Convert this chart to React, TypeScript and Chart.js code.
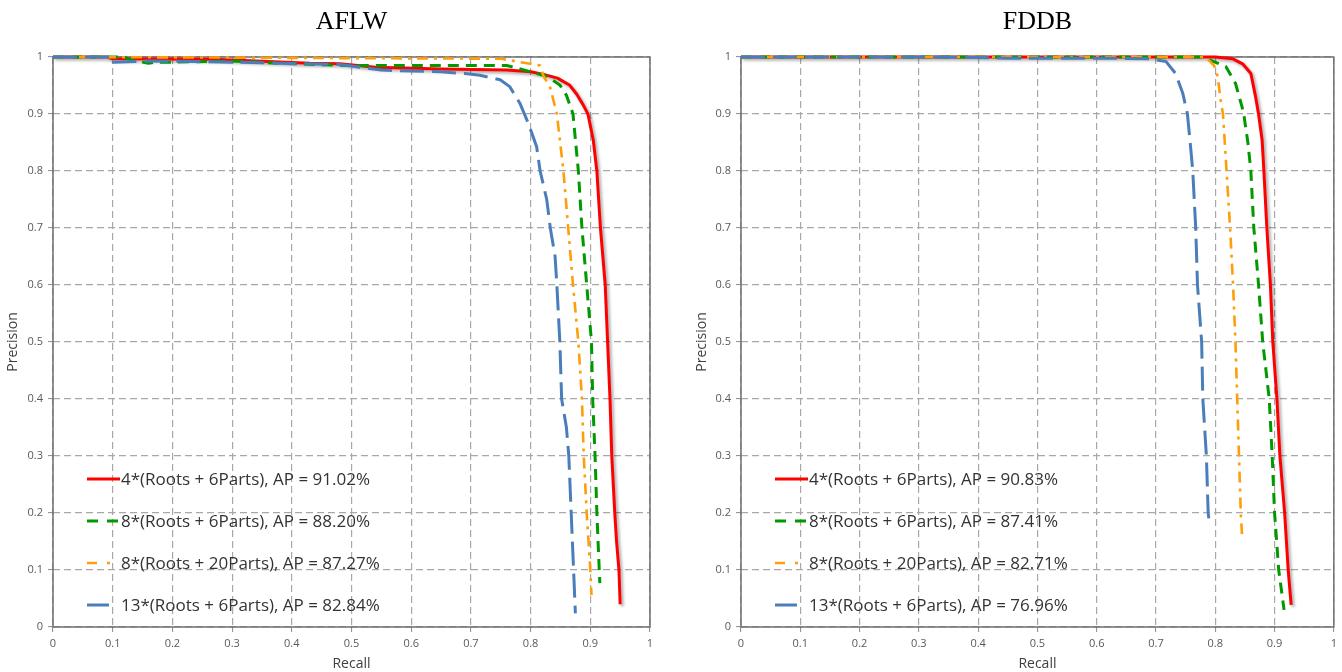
import React, { useEffect, useRef } from "react";
import { Chart, registerables } from "chart.js";

Chart.register(...registerables);

// ---- series labels and average precision ----
const seriesNames = [
  "4*(Roots + 6Parts)",
  "8*(Roots + 6Parts)",
  "8*(Roots + 20Parts)",
  "13*(Roots + 6Parts)",
];
const aflwAP = [91.02, 88.2, 87.27, 82.84];
const fddbAP = [90.83, 87.41, 82.71, 76.96];

// ---- AFLW precision / recall curves ----
const aflwRecall4x6 = [0, 0.09, 0.1, 0.27, 0.34, 0.43, 0.48, 0.54, 0.65, 0.76, 0.8, 0.82, 0.845, 0.865, 0.877, 0.888, 0.896, 0.905, 0.911, 0.917, 0.925, 0.929, 0.933, 0.936, 0.941, 0.944, 0.948, 0.95];
const aflwPrecision4x6 = [1, 1, 0.997, 0.996, 0.993, 0.989, 0.988, 0.982, 0.979, 0.977, 0.974, 0.97, 0.963, 0.951, 0.935, 0.916, 0.9, 0.854, 0.8, 0.7, 0.6, 0.5, 0.4, 0.3, 0.2, 0.15, 0.1, 0.04];

const aflwRecall8x6 = [0, 0.12, 0.13, 0.16, 0.17, 0.2, 0.3, 0.38, 0.49, 0.6, 0.76, 0.79, 0.827, 0.849, 0.86, 0.871, 0.88, 0.886, 0.894, 0.902, 0.904, 0.908, 0.911, 0.915, 0.916];
const aflwPrecision8x6 = [1, 1, 0.995, 0.989, 0.991, 0.991, 0.993, 0.989, 0.985, 0.985, 0.985, 0.977, 0.966, 0.951, 0.933, 0.9, 0.8, 0.7, 0.6, 0.5, 0.4, 0.3, 0.2, 0.1, 0.077];

const aflwRecall8x20 = [0, 0.3, 0.5, 0.75, 0.794, 0.816, 0.821, 0.833, 0.838, 0.844, 0.855, 0.863, 0.871, 0.88, 0.886, 0.889, 0.894, 0.9, 0.902];
const aflwPrecision8x20 = [1, 0.999, 0.998, 0.997, 0.989, 0.985, 0.968, 0.946, 0.925, 0.9, 0.8, 0.7, 0.6, 0.5, 0.4, 0.3, 0.2, 0.1, 0.056];

const aflwRecall13x6 = [0, 0.1, 0.101, 0.16, 0.24, 0.35, 0.42, 0.48, 0.55, 0.65, 0.69, 0.715, 0.749, 0.765, 0.782, 0.796, 0.81, 0.816, 0.827, 0.833, 0.841, 0.844, 0.849, 0.852, 0.86, 0.864, 0.868, 0.872, 0.875];
const aflwPrecision13x6 = [1, 1, 0.991, 0.993, 0.992, 0.99, 0.988, 0.987, 0.977, 0.974, 0.971, 0.968, 0.96, 0.948, 0.919, 0.884, 0.843, 0.8, 0.75, 0.7, 0.65, 0.6, 0.5, 0.4, 0.35, 0.3, 0.2, 0.1, 0.024];

// ---- FDDB precision / recall curves ----
const fddbRecall4x6 = [0, 0.8, 0.829, 0.846, 0.86, 0.868, 0.873, 0.879, 0.882, 0.887, 0.893, 0.897, 0.904, 0.909, 0.917, 0.923, 0.928];
const fddbPrecision4x6 = [1, 1, 0.997, 0.988, 0.971, 0.93, 0.9, 0.854, 0.8, 0.7, 0.6, 0.5, 0.4, 0.3, 0.2, 0.1, 0.039];

const fddbRecall8x6 = [0, 0.775, 0.79, 0.818, 0.834, 0.845, 0.848, 0.855, 0.86, 0.865, 0.873, 0.88, 0.891, 0.896, 0.9, 0.907, 0.916];
const fddbPrecision8x6 = [1, 1, 0.995, 0.983, 0.954, 0.913, 0.9, 0.85, 0.8, 0.7, 0.6, 0.5, 0.4, 0.3, 0.2, 0.1, 0.03];

const fddbRecall8x20 = [0, 0.784, 0.798, 0.804, 0.809, 0.813, 0.819, 0.825, 0.83, 0.834, 0.837, 0.84, 0.843, 0.845];
const fddbPrecision8x20 = [1, 1, 0.985, 0.966, 0.925, 0.9, 0.8, 0.7, 0.6, 0.5, 0.4, 0.3, 0.2, 0.163];

const fddbRecall13x6 = [0, 0.35, 0.45, 0.6, 0.69, 0.717, 0.733, 0.745, 0.753, 0.759, 0.762, 0.767, 0.77, 0.777, 0.779, 0.785, 0.788, 0.79];
const fddbPrecision13x6 = [1, 1, 0.998, 0.998, 0.997, 0.992, 0.971, 0.937, 0.9, 0.835, 0.8, 0.7, 0.6, 0.5, 0.4, 0.3, 0.2, 0.183];

// ---- line styles, one per series ----
const seriesStyles = [
  { color: "#ff0000", width: 3, dash: [] as number[], legendDash: [] as number[], legendLen: 33, shadow: true },
  { color: "#009a00", width: 3, dash: [11, 7], legendDash: [11, 9], legendLen: 33, shadow: false },
  { color: "#ff9e0b", width: 2.6, dash: [11, 6, 3, 6], legendDash: [10, 10, 3, 20], legendLen: 33, shadow: false },
  { color: "#4a7ebb", width: 3, dash: [24, 8], legendDash: [], legendLen: 22, shadow: false },
];

const TICK_FONT = { family: "'Open Sans', sans-serif", size: 11 };
const GRID_COLOR = "#a8a8a8";
const FRAME_COLOR = "#6f6f6f";

// 0 -> "0", 0.1 -> "0.1", 1 -> "1"
const formatTick = (v: number | string) => String(Number(Number(v).toFixed(1)));

type PanelProps = {
  title: string;
  recalls: number[][];
  precisions: number[][];
  ap: number[];
  padLeft: number;
  yWidth: number;
  padRight: number;
};

function pairs(xs: number[], ys: number[]) {
  return xs.map((x, i) => ({ x, y: ys[i] }));
}

function PRPanel({ title, recalls, precisions, ap, padLeft, yWidth, padRight }: PanelProps) {
  const ref = useRef<HTMLCanvasElement | null>(null);

  useEffect(() => {
    if (!ref.current) return;

    const datasets = recalls.map((r, i) => ({
      label: seriesNames[i],
      data: pairs(r, precisions[i]),
      borderColor: seriesStyles[i].color,
      backgroundColor: seriesStyles[i].color,
      borderWidth: seriesStyles[i].width,
      borderDash: seriesStyles[i].dash,
      borderCapStyle: "butt" as const,
      borderJoinStyle: "round" as const,
      pointRadius: 0,
      tension: 0,
      fill: false,
      clip: false as const,
      // red drawn underneath, blue on top
      order: 4 - i,
    }));

    const panelPlugin = {
      id: "prPanel",
      beforeDatasetsDraw(chart: any) {
        const { ctx, chartArea } = chart;
        ctx.save();
        ctx.strokeStyle = FRAME_COLOR;
        ctx.lineWidth = 1.5;
        ctx.strokeRect(chartArea.left, chartArea.top, chartArea.right - chartArea.left, chartArea.bottom - chartArea.top);
        ctx.restore();
      },
      beforeDatasetDraw(chart: any, args: any) {
        const ctx = chart.ctx;
        ctx.save();
        if (seriesStyles[args.index].shadow) {
          ctx.shadowColor = "rgba(0,0,0,0.35)";
          ctx.shadowBlur = 3;
          ctx.shadowOffsetX = 2;
          ctx.shadowOffsetY = 2;
        }
      },
      afterDatasetDraw(chart: any) {
        chart.ctx.restore();
      },
      afterDraw(chart: any) {
        const { ctx, chartArea } = chart;
        ctx.save();
        // panel title
        ctx.fillStyle = "#000";
        ctx.font = "26px 'Liberation Serif', 'Times New Roman', serif";
        ctx.textAlign = "center";
        ctx.textBaseline = "middle";
        ctx.fillText(title, (chartArea.left + chartArea.right) / 2, 22);

        // legend inside the plot, bottom-left
        ctx.textAlign = "left";
        ctx.font = "17px 'Open Sans', sans-serif";
        seriesNames.forEach((name, i) => {
          const st = seriesStyles[i];
          const y = chartArea.bottom - 148 + i * 42;
          const x0 = chartArea.left + 34;
          ctx.save();
          ctx.strokeStyle = st.color;
          ctx.lineWidth = st.width;
          ctx.lineCap = "butt";
          ctx.setLineDash(st.legendDash);
          ctx.beginPath();
          ctx.moveTo(x0, y);
          ctx.lineTo(x0 + st.legendLen, y);
          ctx.stroke();
          ctx.restore();
          ctx.fillStyle = "#333333";
          ctx.fillText(`${name}, AP = ${ap[i].toFixed(2)}%`, chartArea.left + 68, y + 1);
        });
        ctx.restore();
      },
    };

    const chart = new Chart(ref.current, {
      type: "line",
      data: { datasets },
      plugins: [panelPlugin],
      options: {
        animation: false,
        responsive: false,
        devicePixelRatio: 1,
        layout: { padding: { top: 57, left: padLeft, right: padRight, bottom: 0 } },
        plugins: {
          legend: { display: false },
          title: { display: false },
          tooltip: { enabled: false },
        },
        scales: {
          x: {
            type: "linear",
            min: 0,
            max: 1,
            ticks: { stepSize: 0.1, font: TICK_FONT, color: "#595959", padding: 5, maxRotation: 0, callback: formatTick },
            grid: { color: GRID_COLOR, lineWidth: 1.2, tickLength: 5, tickColor: "#8a8a8a", tickWidth: 1, tickBorderDash: [] },
            border: { display: false, dash: [7, 4] },
            title: {
              display: true,
              text: "Recall",
              color: "#404040",
              font: { family: "'Open Sans', sans-serif", size: 14 },
              padding: { top: 0, bottom: 0 },
            },
            afterFit(scale: any) {
              scale.height = 45;
            },
          },
          y: {
            type: "linear",
            min: 0,
            max: 1,
            ticks: { stepSize: 0.1, font: TICK_FONT, color: "#595959", padding: 5, callback: formatTick },
            grid: { color: GRID_COLOR, lineWidth: 1.2, tickLength: 5, tickColor: "#8a8a8a", tickWidth: 1, tickBorderDash: [] },
            border: { display: false, dash: [7, 4] },
            title: {
              display: true,
              text: "Precision",
              color: "#404040",
              font: { family: "'Open Sans', sans-serif", size: 14 },
              padding: { top: 5, bottom: 0 },
            },
            afterFit(scale: any) {
              scale.width = yWidth;
            },
          },
        },
      },
    } as any);

    return () => chart.destroy();
  }, [title, recalls, precisions, ap, padLeft, yWidth, padRight]);

  return <canvas ref={ref} width={671} height={672} style={{ display: "block", width: 671, height: 672 }} />;
}

const aflwRecalls = [aflwRecall4x6, aflwRecall8x6, aflwRecall8x20, aflwRecall13x6];
const aflwPrecisions = [aflwPrecision4x6, aflwPrecision8x6, aflwPrecision8x20, aflwPrecision13x6];
const fddbRecalls = [fddbRecall4x6, fddbRecall8x6, fddbRecall8x20, fddbRecall13x6];
const fddbPrecisions = [fddbPrecision4x6, fddbPrecision8x6, fddbPrecision8x20, fddbPrecision13x6];

export default function App() {
  return (
    <div style={{ position: "absolute", left: 0, top: 0, width: 1342, height: 672, background: "#fff", overflow: "hidden" }}>
      <div style={{ position: "absolute", left: 0, top: 0 }}>
        <PRPanel title="AFLW" recalls={aflwRecalls} precisions={aflwPrecisions} ap={aflwAP} padLeft={0} yWidth={53} padRight={21} />
      </div>
      <div style={{ position: "absolute", left: 671, top: 0 }}>
        <PRPanel title="FDDB" recalls={fddbRecalls} precisions={fddbPrecisions} ap={fddbAP} padLeft={18} yWidth={52} padRight={7} />
      </div>
    </div>
  );
}
